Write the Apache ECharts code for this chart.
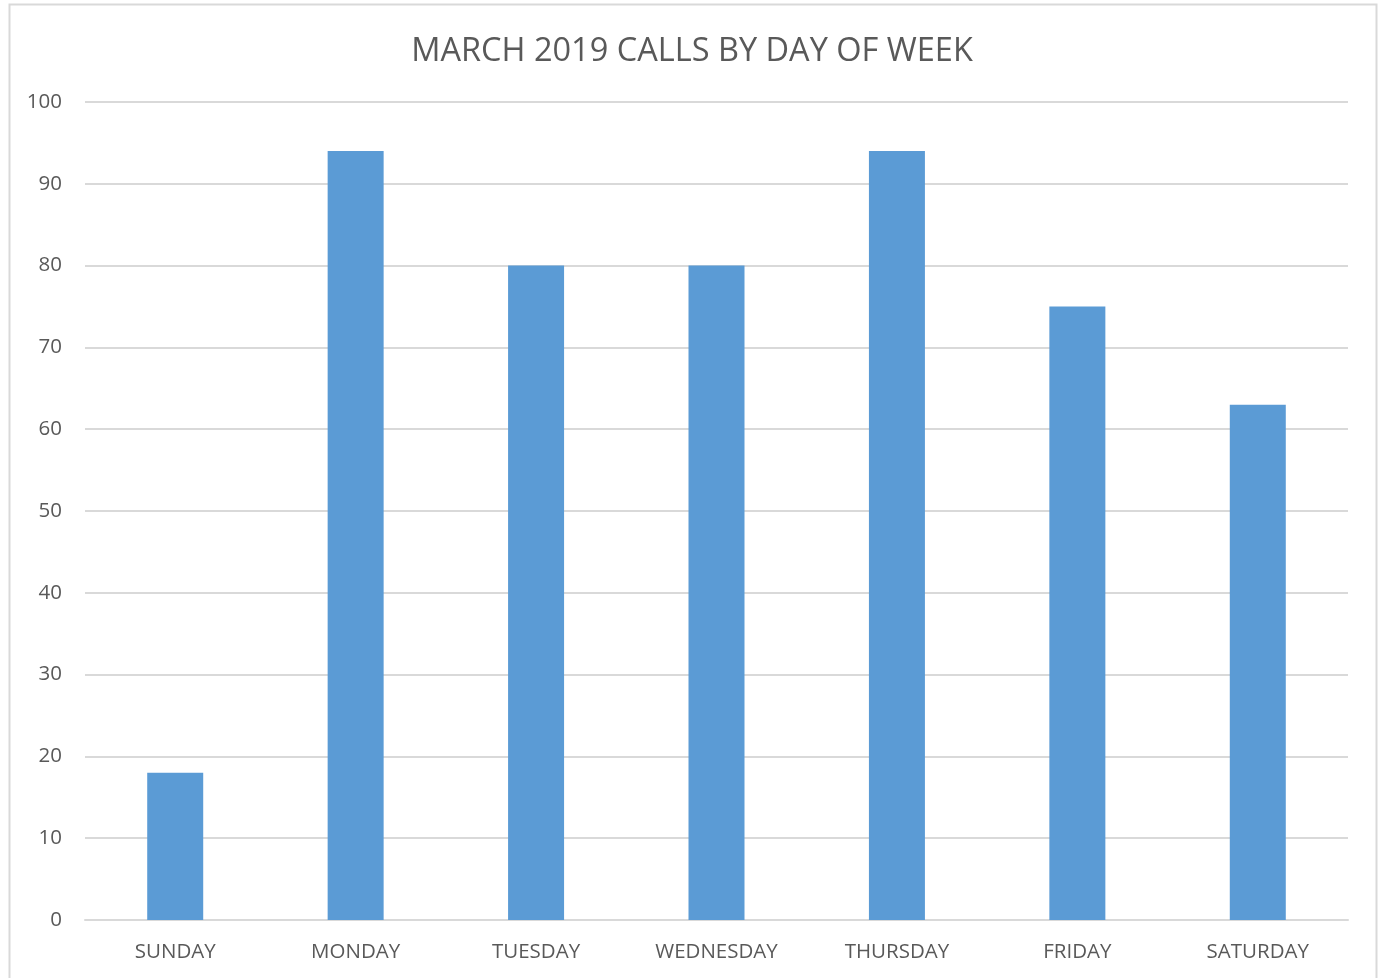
<!DOCTYPE html>
<html><head><meta charset="utf-8">
<script src="https://cdn.jsdelivr.net/npm/echarts@6/dist/echarts.min.js"></script>
<style>html,body{margin:0;padding:0;background:#fff}#c{width:1384px;height:978px}</style>
</head><body><div id="c"></div>
<script>
const categories = ['SUNDAY','MONDAY','TUESDAY','WEDNESDAY','THURSDAY','FRIDAY','SATURDAY'];
const calls = [18, 94, 80, 80, 94, 75, 63];
const titleText = 'MARCH 2019 CALLS BY DAY OF WEEK';
const font = '"Open Sans", "Liberation Sans", sans-serif';
const chart = echarts.init(document.getElementById('c'));
chart.setOption({
  animation: false,
  backgroundColor: '#fff',
  title: {
    text: titleText, left: 'center', top: 30,
    textStyle: {fontFamily: font, fontSize: 32.5, fontWeight: 'normal', color: '#595959'}
  },
  graphic: [{
    type: 'rect', shape: {x: 9.5, y: 4.5, width: 1367, height: 990},
    style: {fill: 'none', stroke: '#d9d9d9', lineWidth: 2}, silent: true
  }],
  grid: {left: 85, right: 36, top: 102, bottom: 58},
  xAxis: {
    type: 'category', data: categories,
    axisLine: {lineStyle: {color: '#d9d9d9', width: 2}},
    axisTick: {show: false},
    axisLabel: {fontFamily: font, fontSize: 20.5, color: '#595959', margin: 22}
  },
  yAxis: {
    type: 'value', min: 0, max: 100, interval: 10,
    axisLine: {show: false}, axisTick: {show: false},
    splitLine: {lineStyle: {color: '#d9d9d9', width: 2}},
    axisLabel: {fontFamily: font, fontSize: 20.5, color: '#595959', margin: 23}
  },
  series: [{
    type: 'bar', data: calls, barWidth: 56,
    itemStyle: {color: '#5b9bd5'}
  }]
});
</script></body></html>
